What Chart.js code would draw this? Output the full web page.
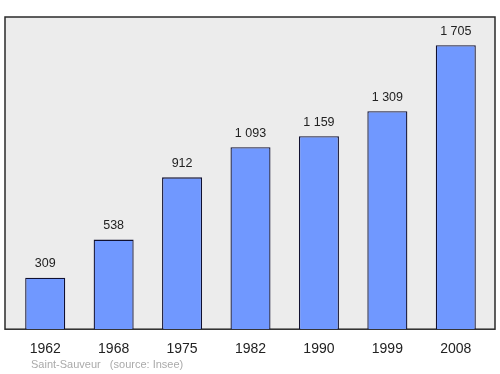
<!DOCTYPE html>
<html>
<head>
<meta charset="utf-8">
<script src="https://cdn.jsdelivr.net/npm/chart.js@4/dist/chart.umd.min.js"></script>
<style>
  html, body { margin: 0; padding: 0; background: #fff; }
  #wrap { width: 500px; height: 374px; position: relative; }
</style>
</head>
<body>
<div id="wrap"><canvas id="popChart"></canvas></div>
<script>
// ---- Data ----
const YEARS = ["1962", "1968", "1975", "1982", "1990", "1999", "2008"];
const POPULATION = [309, 538, 912, 1093, 1159, 1309, 1705];
const TOWN = "Saint-Sauveur";
const SOURCE = "(source: Insee)";

const FONT = "'Liberation Sans', Arial, sans-serif";
const fmt = (n) => String(n).replace(/\B(?=(\d{3})+(?!\d))/g, " ");

// gray panel behind the bars + border
const panelPlugin = {
  id: 'panel',
  beforeDraw(chart) {
    const { ctx, chartArea: a } = chart;
    ctx.save();
    ctx.fillStyle = '#ececec';
    ctx.strokeStyle = '#2a2a2a';
    ctx.lineWidth = 1.5;
    const x = a.left - 6, y = a.top, w = a.right - a.left + 11, h = a.bottom - a.top;
    ctx.fillRect(x, y, w, h);
    ctx.strokeRect(x, y, w, h);
    ctx.restore();
  }
};

// value labels above bars + footer
const labelPlugin = {
  id: 'labels',
  afterDatasetsDraw(chart) {
    const { ctx } = chart;
    const meta = chart.getDatasetMeta(0);
    ctx.save();
    ctx.fillStyle = '#222';
    ctx.font = "12.5px " + FONT;
    ctx.textAlign = 'center';
    ctx.textBaseline = 'middle';
    meta.data.forEach((bar, i) => {
      ctx.fillText(fmt(POPULATION[i]), bar.x, bar.y - 14);
    });
    ctx.fillStyle = '#aaa';
    ctx.font = "11px " + FONT;
    ctx.textAlign = 'left';
    ctx.fillText(TOWN + "   " + SOURCE, chart.chartArea.left + 20, 365);
    ctx.restore();
  }
};

new Chart(document.getElementById('popChart'), {
  type: 'bar',
  data: {
    labels: YEARS,
    datasets: [{
      data: POPULATION,
      backgroundColor: '#7098ff',
      borderColor: '#101030',
      borderWidth: 1.3,
      borderSkipped: 'bottom',
      barPercentage: 0.585,
      categoryPercentage: 1
    }]
  },
  options: {
    responsive: true,
    maintainAspectRatio: false,
    animation: false,
    layout: { padding: { left: 11, right: 10, top: 17, bottom: 12 } },
    plugins: { legend: { display: false }, tooltip: { enabled: false } },
    scales: {
      x: {
        grid: { display: false },
        border: { display: false },
        ticks: { color: '#222', font: { size: 14, family: FONT }, padding: 4, maxRotation: 0 }
      },
      y: {
        display: false,
        min: 0,
        max: 1875
      }
    }
  },
  plugins: [panelPlugin, labelPlugin]
});
</script>
</body>
</html>
